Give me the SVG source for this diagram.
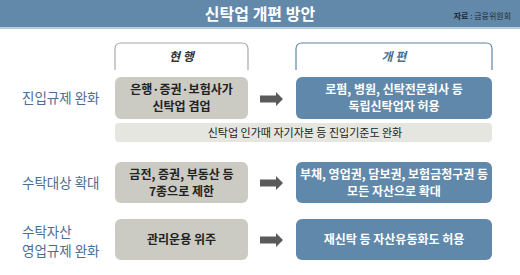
<svg xmlns="http://www.w3.org/2000/svg" width="520" height="275" viewBox="0 0 520 275">
<style>
.t{font-family:"Noto Sans CJK KR","Noto Sans",sans-serif;}
.lbl{font-size:13.5px;fill:#4a6e94;text-anchor:start;}
.g{fill:#cbcac3;}
.b{fill:#6088aa;}
.bt{font-size:12px;font-weight:bold;text-anchor:middle;}
.dk{fill:#222;}
.wh{fill:#fff;}
.arr{fill:#5a5a5a;}
</style>
<defs>
<path id="arrow" d="M0,-3.5 H16 V-7 L23,0 L16,7 V3.5 H0 Z"/>
</defs>
<rect x="0" y="0" width="520" height="27" fill="#6389aa"/>
<rect x="0" y="27" width="520" height="2" fill="#b7cde0"/>
<text class="t" x="260" y="20" font-size="16" font-weight="bold" fill="#fff" text-anchor="middle">신탁업 개편 방안</text>
<text class="t" x="511" y="19" font-size="8" fill="#1e2a36" text-anchor="end"><tspan font-weight="bold">자료</tspan> : 금융위원회</text>

<g id="header-current">
<path d="M115,70 V49 Q115,43 121,43 H242 Q248,43 248,49 V70" fill="none" stroke="#a8a8a8" stroke-width="1.2"/>
<text class="t" x="181.5" y="61" font-size="12" font-weight="bold" font-style="italic" fill="#333" text-anchor="middle">현 행</text>
</g>
<g id="header-reform">
<path d="M296,70 V49 Q296,43 302,43 H486 Q492,43 492,49 V70" fill="none" stroke="#5f84a6" stroke-width="1.2"/>
<text class="t" x="394" y="61" font-size="12" font-weight="bold" font-style="italic" fill="#4a6e94" text-anchor="middle">개 편</text>
</g>

<g id="row1-label"><text class="t lbl" x="22" y="103">진입규제 완화</text></g>
<g id="row1-current">
<rect class="g" x="115" y="77" width="133" height="42" rx="6"/>
<text class="t bt dk" x="181.5" y="94">은행·증권·보험사가</text>
<text class="t bt dk" x="181.5" y="111">신탁업 겸업</text>
</g>
<g id="row1-reform">
<rect class="b" x="296" y="77" width="196" height="42" rx="6"/>
<text class="t bt wh" x="394" y="94">로펌, 병원, 신탁전문회사 등</text>
<text class="t bt wh" x="394" y="111">독립신탁업자 허용</text>
</g>
<g id="row1-note">
<rect x="115" y="123" width="377" height="19" rx="4" fill="#e6e6e0"/>
<text class="t" x="305" y="136.5" font-size="11" fill="#222" text-anchor="middle">신탁업 인가때 자기자본 등 진입기준도 완화</text>
</g>

<g id="row2-label"><text class="t lbl" x="22" y="188">수탁대상 확대</text></g>
<g id="row2-current">
<rect class="g" x="115" y="162" width="133" height="41" rx="6"/>
<text class="t bt dk" x="181.5" y="179">금전, 증권, 부동산 등</text>
<text class="t bt dk" x="181.5" y="196">7종으로 제한</text>
</g>
<g id="row2-reform">
<rect class="b" x="296" y="162" width="196" height="41" rx="6"/>
<text class="t bt wh" x="394" y="179">부채, 영업권, 담보권, 보험금청구권 등</text>
<text class="t bt wh" x="394" y="196">모든 자산으로 확대</text>
</g>

<g id="row3-label">
<text class="t lbl" x="22" y="237">수탁자산</text>
<text class="t lbl" x="22" y="256">영업규제 완화</text>
</g>
<g id="row3-current">
<rect class="g" x="115" y="219" width="133" height="41" rx="6"/>
<text class="t bt dk" x="181.5" y="244">관리운용 위주</text>
</g>
<g id="row3-reform">
<rect class="b" x="296" y="219" width="196" height="41" rx="6"/>
<text class="t bt wh" x="394" y="244">재신탁 등 자산유동화도 허용</text>
</g>

<g id="connectors">
<use href="#arrow" class="arr" x="260" y="99"/>
<use href="#arrow" class="arr" x="260" y="183"/>
<use href="#arrow" class="arr" x="260" y="240"/>
</g>
</svg>
